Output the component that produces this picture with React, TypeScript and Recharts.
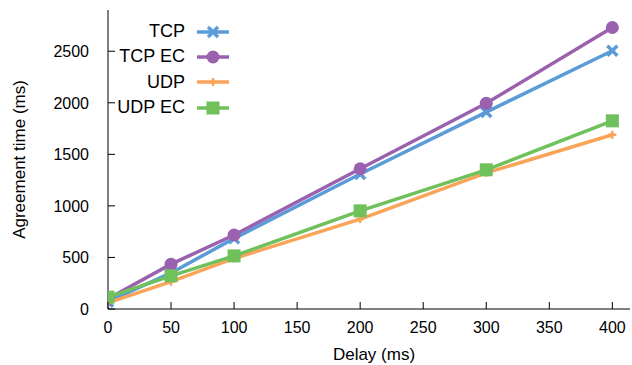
import { LineChart, Line, XAxis, YAxis, Label } from "recharts";

const delays = [0, 50, 100, 200, 300, 400];
const tcp = [70, 350, 685, 1310, 1910, 2505];
const tcpEc = [100, 435, 718, 1360, 1995, 2730];
const udp = [60, 265, 490, 872, 1320, 1690];
const udpEc = [115, 322, 515, 952, 1350, 1825];

const xTicks = [0, 50, 100, 150, 200, 250, 300, 350, 400];
const yTicks = [0, 500, 1000, 1500, 2000, 2500];

const data = delays.map((d, i) => ({
  delay: d,
  tcp: tcp[i],
  tcpEc: tcpEc[i],
  udp: udp[i],
  udpEc: udpEc[i],
}));

const FONT = '"Liberation Sans", Arial, Helvetica, sans-serif';
const TICK = 7;

const series = [
  { key: "tcp", name: "TCP", color: "#5a9bd8", marker: "cross" },
  { key: "tcpEc", name: "TCP EC", color: "#9a62ae", marker: "circle" },
  { key: "udp", name: "UDP", color: "#f9a458", marker: "plus" },
  { key: "udpEc", name: "UDP EC", color: "#70c05c", marker: "square" },
];

function Marker({ type, cx, cy, color }: any) {
  if (cx == null || cy == null) return null;
  if (type === "circle") return <circle cx={cx} cy={cy} r={6.5} fill={color} />;
  if (type === "square")
    return <rect x={cx - 6.5} y={cy - 6.5} width={13} height={13} fill={color} />;
  if (type === "cross")
    return (
      <g stroke={color} strokeWidth={3.5}>
        <line x1={cx - 5} y1={cy - 5} x2={cx + 5} y2={cy + 5} />
        <line x1={cx - 5} y1={cy + 5} x2={cx + 5} y2={cy - 5} />
      </g>
    );
  return (
    <g stroke={color} strokeWidth={2.5}>
      <line x1={cx - 4} y1={cy} x2={cx + 4} y2={cy} />
      <line x1={cx} y1={cy - 4} x2={cx} y2={cy + 4} />
    </g>
  );
}

function BottomTick({ x, y, payload }: any) {
  return (
    <g>
      <line x1={x} x2={x} y1={y} y2={y - TICK} stroke="#000" />
      <text x={x} y={y + 24} textAnchor="middle" fontSize={16} fontFamily={FONT} fill="#000">
        {payload.value}
      </text>
    </g>
  );
}

function TopTick({ x, y }: any) {
  return <line x1={x} x2={x} y1={y} y2={y + TICK} stroke="#000" />;
}

function LeftTick({ x, y, payload }: any) {
  return (
    <g>
      <line x1={x} x2={x + TICK} y1={y} y2={y} stroke="#000" />
      <text x={x - 19} y={y + 6} textAnchor="end" fontSize={16} fontFamily={FONT} fill="#000">
        {payload.value}
      </text>
    </g>
  );
}

function RightTick({ x, y }: any) {
  return <line x1={x} x2={x - TICK} y1={y} y2={y} stroke="#000" />;
}

function LegendBox() {
  return (
    <div
      style={{
        position: "absolute",
        left: 100,
        top: 19,
        fontFamily: FONT,
        fontSize: 18,
        color: "#000",
      }}
    >
      {series.map((s) => (
        <div key={s.key} style={{ display: "flex", alignItems: "center", height: 25.3 }}>
          <span style={{ width: 85, textAlign: "right" }}>{s.name}</span>
          <svg width={44} height={20} style={{ marginLeft: 6 }}>
            <line x1={6} x2={38} y1={10} y2={10} stroke={s.color} strokeWidth={3.5} />
            <Marker type={s.marker} cx={22} cy={10} color={s.color} />
          </svg>
        </div>
      ))}
    </div>
  );
}

export default function App() {
  return (
    <div style={{ position: "absolute", left: 0, top: 0, width: 632, height: 365, background: "#fff" }}>
      <LineChart width={632} height={365} data={data} margin={{ top: 10, right: 2, left: 0, bottom: 0 }}>
        <XAxis
          dataKey="delay"
          type="number"
          domain={[0, 414]}
          ticks={xTicks}
          height={56}
          tickSize={0}
          tickMargin={0}
          tick={<BottomTick />}
          axisLine={{ stroke: "#000" }}
          allowDataOverflow
        >
          <Label
            value="Delay (ms)"
            position="insideBottom"
            offset={5}
            dx={5}
            style={{ fontFamily: FONT, fontSize: 17, fill: "#000" }}
          />
        </XAxis>
        <XAxis
          xAxisId="top"
          dataKey="delay"
          type="number"
          orientation="top"
          domain={[0, 414]}
          ticks={xTicks}
          height={0}
          tickSize={0}
          tickMargin={0}
          tick={<TopTick />}
          axisLine={{ stroke: "#000" }}
          allowDataOverflow
        />
        <YAxis
          type="number"
          domain={[0, 2900]}
          ticks={yTicks}
          width={108}
          tickSize={0}
          tickMargin={0}
          tick={<LeftTick />}
          axisLine={{ stroke: "#000" }}
          allowDataOverflow
        >
          <Label
            value="Agreement time (ms)"
            angle={-90}
            position="insideLeft"
            offset={19}
            style={{ fontFamily: FONT, fontSize: 17, fill: "#000", textAnchor: "middle" }}
          />
        </YAxis>
        <YAxis
          yAxisId="right"
          type="number"
          orientation="right"
          domain={[0, 2900]}
          ticks={yTicks}
          width={0}
          tickSize={0}
          tickMargin={0}
          tick={<RightTick />}
          axisLine={{ stroke: "#000" }}
          allowDataOverflow
        />
        {series.map((s) => (
          <Line
            key={s.key}
            dataKey={s.key}
            name={s.name}
            stroke={s.color}
            strokeWidth={3.5}
            isAnimationActive={false}
            dot={(p: any) => <Marker key={p.index} type={s.marker} cx={p.cx} cy={p.cy} color={s.color} />}
            activeDot={false}
          />
        ))}
      </LineChart>
      <LegendBox />
    </div>
  );
}
